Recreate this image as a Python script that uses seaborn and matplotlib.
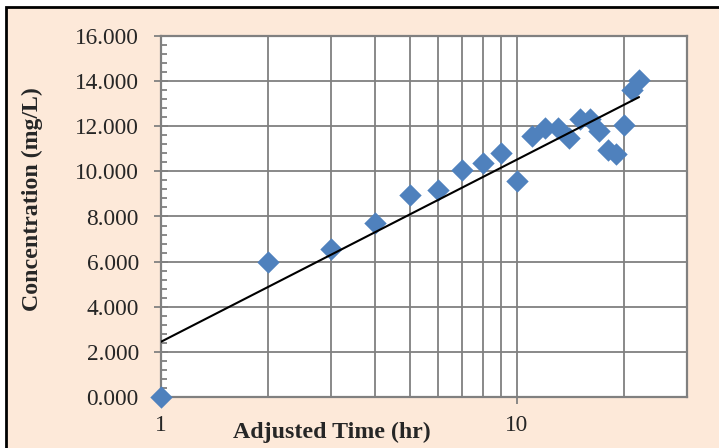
import numpy as np
import pandas as pd
import matplotlib
matplotlib.use("Agg")
import matplotlib.pyplot as plt
from matplotlib.patches import Rectangle
from matplotlib.ticker import MultipleLocator, FixedLocator, FixedFormatter, NullFormatter, FormatStrFormatter
import seaborn as sns

# Measured concentration against adjusted elapsed time
time_hr = [1, 2, 3, 4, 5, 6, 7, 8, 9, 10, 11, 12, 13, 14, 15, 16, 17, 18, 19, 20, 21, 22]
conc_mgL = [0.0, 6.0, 6.57, 7.72, 8.97, 9.18, 10.07, 10.38, 10.80, 9.56, 11.55, 11.92,
            11.92, 11.47, 12.31, 12.31, 11.77, 10.93, 10.76, 12.07, 13.60, 14.05]
y_ticks = [0, 2, 4, 6, 8, 10, 12, 14, 16]
x_tick_labels = ["1", "10"]

df = pd.DataFrame({"time": time_hr, "conc": conc_mgL})

sns.set_style("white")
plt.rcParams["font.family"] = ["Liberation Serif", "DejaVu Serif"]

peach = "#FDE9D9"
grid_gray = "#808080"
blue = "#4F81BD"

fig = plt.figure(figsize=(7.19, 4.48), dpi=100)
fig.patch.set_facecolor("white")
# chart area background with a black frame on the visible sides
fig.patches.append(Rectangle((6 / 719, -0.05), 1.2, 1 - 7 / 448 + 0.05,
                             transform=fig.transFigure, facecolor=peach,
                             edgecolor="black", linewidth=2.0, zorder=-10))

ax = fig.add_axes([161 / 719, 1 - 397 / 448, (687 - 161) / 719, (397 - 36) / 448])
ax.set_facecolor("white")
ax.set_xscale("log")
ax.set_xlim(1, 30)
ax.set_ylim(0, 16)

# gridlines: horizontal at every major y tick, vertical at each log step
ax.xaxis.set_major_locator(FixedLocator([1, 10]))
ax.xaxis.set_major_formatter(FixedFormatter(x_tick_labels))
ax.xaxis.set_minor_locator(FixedLocator([2, 3, 4, 5, 6, 7, 8, 9, 20]))
ax.xaxis.set_minor_formatter(NullFormatter())
ax.yaxis.set_major_locator(FixedLocator(y_ticks))
ax.yaxis.set_major_formatter(FormatStrFormatter("%.3f"))
ax.yaxis.set_minor_locator(MultipleLocator(0.4))

ax.grid(True, which="major", axis="both", color=grid_gray, linewidth=1.3, zorder=0)
ax.grid(True, which="minor", axis="x", color=grid_gray, linewidth=1.3, zorder=0)
ax.set_axisbelow(True)

for s in ax.spines.values():
    s.set_color(grid_gray)
    s.set_linewidth(1.6)

ax.tick_params(axis="y", which="major", direction="inout", length=10, width=1.3,
               color=grid_gray, labelsize=16.8, pad=11, left=True)
ax.tick_params(axis="y", which="minor", direction="in", length=4, width=1.3,
               color=grid_gray, left=True)
ax.tick_params(axis="x", which="major", direction="out", length=5, width=1.3,
               color=grid_gray, labelsize=16.8, pad=8, bottom=True)
ax.tick_params(axis="x", which="minor", length=0)

sns.scatterplot(data=df, x="time", y="conc", ax=ax, marker="D", s=130,
                color=blue, edgecolor=blue, linewidth=0, zorder=3, clip_on=False)
sns.regplot(data=df, x="time", y="conc", ax=ax, logx=True, scatter=False, ci=None,
            truncate=True, line_kws={"color": "black", "linewidth": 1.5, "zorder": 4})

ax.set_xlabel("Adjusted Time (hr)", fontsize=17.2, fontweight="bold")
ax.set_ylabel("Concentration (mg/L)", fontsize=17.2, fontweight="bold")
ax.xaxis.set_label_coords(0.325, -0.068)
ax.yaxis.set_label_coords(-0.224, 0.548)

fig.savefig("out.png", dpi=100, facecolor=fig.get_facecolor())
